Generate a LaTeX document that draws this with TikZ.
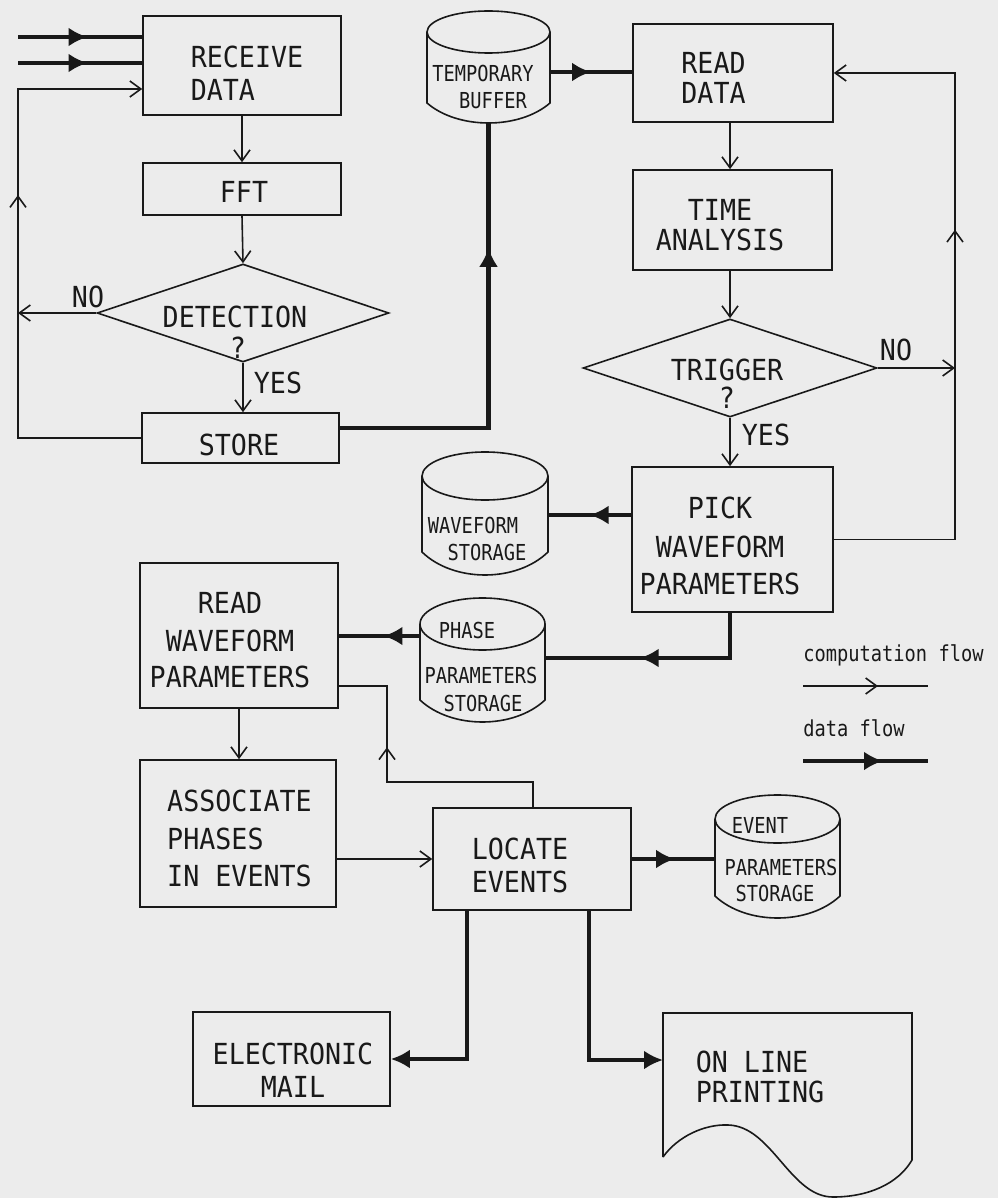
\documentclass[tikz,border=0pt]{standalone}
\usepackage{fontspec}
\newfontfamily\plotfont[FakeStretch=0.92]{DejaVu Sans Mono}
\newfontfamily\plotsmall[FakeStretch=0.85]{DejaVu Sans Mono}
\usetikzlibrary{arrows.meta,shapes.geometric,decorations.markings,calc}
\definecolor{paper}{RGB}{236,236,236}
\definecolor{ink}{RGB}{25,25,25}
\newcommand{\drawcyl}[6]{%
  \draw[comp] ({(#1+#2)/2},#3) ellipse [x radius={(#2-#1)/4*1pt}, y radius={#4/2*1pt}];
  \draw[comp] (#1,#3) -- (#1,#5) .. controls ({#1+(#2-#1)/4},{#5+4/3*#6}) and ({#2-(#2-#1)/4},{#5+4/3*#6}) .. (#2,#5) -- (#2,#3);
}
\tikzset{
  comp/.style={draw=ink, line width=0.8pt},
  carrow/.style={-{Straight Barb[length=5.5pt,width=8pt]}},
  cmid/.style={postaction={decorate}, decoration={markings, mark=at position #1 with {\arrow{Straight Barb[length=5.5pt,width=8pt]}}}},
  data/.style={draw=ink, line width=2.2pt},
  darrow/.style={-{Latex[length=9.5pt,width=9.5pt]}},
  dmid/.style={postaction={decorate}, decoration={markings, mark=at position #1 with {\arrow{Latex[length=9.5pt,width=9.5pt]}}}},
  box/.style={draw=ink, line width=0.8pt, rectangle, inner sep=0pt},
  diam/.style={draw=ink, line width=0.8pt, shape=diamond, inner sep=0pt},
  txt/.style={text=ink, inner sep=0pt, font={\fontsize{14.5pt}{16.5pt}\plotfont}},
  stxt/.style={text=ink, inner sep=0pt, font={\fontsize{11pt}{13pt}\plotsmall}},
}
\begin{document}
\begin{tikzpicture}[x=0.5pt,y=-0.5pt]
\fill[paper] (0,0) rectangle (998,1198);
\useasboundingbox (0,0) rectangle (998,1198);

% ---------- left column ----------
\node[box, minimum width=99pt, minimum height=49.5pt] (recv) at (242,65.5) {};
\node[txt, align=left] (recv-t) at (247,73.5) {RECEIVE\\DATA};
\node[box, minimum width=99pt, minimum height=26pt] (fft) at (242,189) {};
\node[txt] (fft-t) at (244,192) {FFT};
\node[diam, minimum width=146pt, minimum height=49pt] (det) at (243,313) {};
\node[txt] (det-t) at (235,317) {DETECTION};
\node[txt] (det-q) at (238,348) {?};
\node[txt] (det-no) at (88,297) {NO};
\node[txt] (det-yes) at (278,383) {YES};
\node[box, minimum width=98.5pt, minimum height=25pt] (store) at (240.5,438) {};
\node[txt] (store-t) at (239,445) {STORE};

% ---------- temporary buffer ----------
\drawcyl{427}{550}{32}{21}{103}{20}
\coordinate (buf-s) at (488.5,123);
\coordinate (buf-e) at (550,72);
\node[stxt] (buf-t1) at (483,73) {TEMPORARY};
\node[stxt] (buf-t2) at (493,101) {BUFFER};

% ---------- right column ----------
\node[box, minimum width=100pt, minimum height=49pt] (readd) at (733,73) {};
\node[txt, align=left] (readd-t) at (713.5,78) {READ\\[-1.5pt]DATA};
\node[box, minimum width=99.5pt, minimum height=50pt] (time) at (732.5,220) {};
\node[txt, align=center] (time-t) at (720,225) {TIME\\[-1.5pt]ANALYSIS};
\node[diam, minimum width=147pt, minimum height=49pt] (trig) at (730,368) {};
\node[txt] (trig-t) at (727,370) {TRIGGER};
\node[txt] (trig-q) at (727,398) {?};
\node[txt] (trig-no) at (896,350) {NO};
\node[txt] (trig-yes) at (766,435) {YES};
\node[box, minimum width=100.5pt, minimum height=72.5pt] (pick) at (732.5,539.5) {};
\node[txt, align=center] (pick-t) at (720,546) {PICK\\[3pt]WAVEFORM\\[2pt]PARAMETERS};

% ---------- storages ----------
\drawcyl{422}{548}{476}{24}{552}{23}
\coordinate (wave-e) at (548,515);
\node[stxt] (wave-t1) at (473,525) {WAVEFORM};
\node[stxt] (wave-t2) at (487,552) {STORAGE};

\drawcyl{420}{545}{624}{26}{700}{22}
\coordinate (phase-e) at (545,658);
\coordinate (phase-w) at (420,636);
\node[stxt] (phase-t1) at (467,630) {PHASE};
\node[stxt] (phase-t2) at (481,675) {PARAMETERS};
\node[stxt] (phase-t3) at (483,703) {STORAGE};

\drawcyl{715}{840}{819}{24}{896}{22}
\coordinate (event-w) at (715,859);
\node[stxt] (event-t1) at (760,825) {EVENT};
\node[stxt] (event-t2) at (781,867) {PARAMETERS};
\node[stxt] (event-t3) at (775,893) {STORAGE};

% ---------- lower part ----------
\node[box, minimum width=99pt, minimum height=72.5pt] (rwp) at (239,635.5) {};
\node[txt, align=center] (rwp-t) at (230,640) {READ\\[2.5pt]WAVEFORM\\[1.5pt]PARAMETERS};
\node[box, minimum width=98pt, minimum height=73.5pt] (assoc) at (238,833.5) {};
\node[txt, align=left] (assoc-t) at (239.5,838.5) {ASSOCIATE\\[2.5pt]PHASES\\[2pt]IN EVENTS};
\node[box, minimum width=99pt, minimum height=51pt] (locate) at (532,859) {};
\node[txt, align=left] (locate-t) at (520,865) {LOCATE\\EVENTS};
\node[box, minimum width=98.5pt, minimum height=47pt] (mail) at (291.5,1059) {};
\node[txt, align=center] (mail-t) at (293,1070) {ELECTRONIC\\MAIL};

% document shape
\draw[comp] (663,1157) -- (663,1013) -- (912,1013) -- (912,1160)
  .. controls (898,1184) and (868,1197) .. (833,1197)
  .. controls (790,1197) and (772,1126) .. (728,1125)
  .. controls (705,1124) and (678,1136) .. (663,1157);
\coordinate (print-w) at (663,1060);
\node[txt, align=left] (print-t) at (760,1077) {ON LINE\\[-1.5pt]PRINTING};

% ---------- connectors ----------
\coordinate (in1) at (18,37);
\coordinate (in2) at (18,63);
\draw[data, dmid=0.56] (in1) -- (in1 -| recv.west);
\draw[data, dmid=0.56] (in2) -- (in2 -| recv.west);

\draw[comp, carrow] (recv.south) -- (fft.north);
\draw[comp, carrow] (fft.south) -- (det.north);
\draw[comp, carrow] (det.south) -- (det.south |- store.north);
\coordinate (fbl) at (18,313);
\coordinate (fbltop) at (18,89);
\draw[comp, carrow] (det.west) -- (fbl);
\draw[comp, carrow, cmid=0.614] (store.west) -| (fbltop) -- (fbltop -| recv.west);

\coordinate (sto-e) at ([yshift=5pt]store.east);
\draw[data, dmid=0.725] (sto-e) -| (buf-s);
\draw[data, dmid=0.5] (buf-e) -- (buf-e -| readd.west);

\draw[comp, carrow] (trig.north |- readd.south) -- (trig.north |- time.north);
\draw[comp, carrow] (trig.north |- time.south) -- (trig.north);
\coordinate (fbr) at (955,368);
\coordinate (fbrtop) at (955,73);
\draw[comp, carrow] (trig.east) -- (fbr);
\draw[comp, carrow] (trig.south) -- (trig.south |- pick.north);
\draw[comp, carrow, cmid=0.608] (pick.east) -| (fbrtop) -- (readd.east);

\coordinate (pk-w) at ([yshift=12.25pt]pick.west);
\draw[data, dmid=0.5] (pk-w) -- (wave-e);
\coordinate (pk-s) at ([xshift=-1.25pt]pick.south);
\draw[data, dmid=0.589] (pk-s) |- (phase-e);
\draw[data, dmid=0.45] (phase-w) -- (phase-w -| rwp.east);

\coordinate (loc-n) at ([xshift=0.5pt]locate.north);
\coordinate (lr1) at (533,782);
\coordinate (lr2) at (387,686);
\draw[comp, cmid=0.653] (loc-n) -- (lr1) -| (lr2) -- (lr2 -| rwp.east);

\draw[comp, carrow] (rwp.south) -- (rwp.south |- assoc.north);
\draw[comp, carrow] (locate.west -| assoc.east) -- (locate.west);
\draw[data, dmid=0.52] (locate.east) -- (event-w);

\coordinate (loc-s1) at ([xshift=-32.5pt]locate.south);
\coordinate (loc-s2) at ([xshift=28.5pt]locate.south);
\draw[data, darrow] (loc-s1) |- (mail.east);
\draw[data, darrow] (loc-s2) |- (print-w);

% ---------- legend ----------
\node[stxt, anchor=west] (leg1) at (803,655) {computation flow};
\coordinate (l1a) at (803,686);
\coordinate (l1b) at (928,686);
\draw[comp, cmid=0.6] (l1a) -- (l1b);
\node[stxt, anchor=west] (leg2) at (803,728) {data flow};
\coordinate (l2a) at (803,761);
\coordinate (l2b) at (928,761);
\draw[data, dmid=0.64] (l2a) -- (l2b);
\end{tikzpicture}
\end{document}
